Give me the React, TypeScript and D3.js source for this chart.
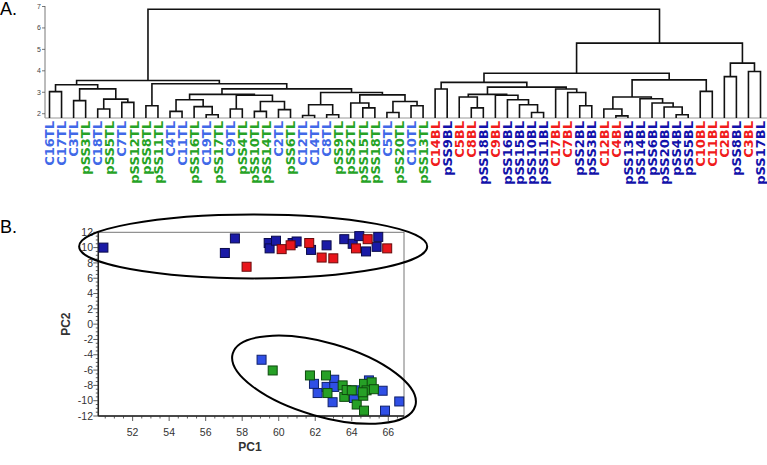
import React from 'react';
import * as d3 from 'd3';

type Node = string | [number, Node, Node];

// dendrogram (merge height, left, right)
const tlTree: Node = [3.55,
  [3.35,
    [3.03, 'C16TL', 'C17TL'],
    [3.16,
      [2.61, 'C3TL', 'pSS3TL'],
      [2.68, [2.22, 'C18TL', 'pSS5TL'], [2.53, 'C7TL', 'pSS12TL']]]],
  [3.40,
    [2.37, 'pSS8TL', 'pSS11TL'],
    [3.16,
      [2.90,
        [2.65, [2.11, 'C4TL', 'C11TL'], [2.33, 'pSS16TL', [1.95, 'C19TL', 'pSS17TL']]],
        [2.86, [2.22, 'C9TL', 'pSS4TL'], [2.57, [2.11, 'pSS10TL', 'pSS14TL'], [2.19, 'C2TL', 'pSS6TL']]]],
      [2.99,
        [2.42, [1.92, 'C12TL', 'C14TL'], [1.95, 'C8TL', 'pSS9TL']],
        [2.88, [2.5, 'pSS2TL', [2.27, 'pSS15TL', 'pSS18TL']], [2.57, [2.06, 'C5TL', 'pSS20TL'], [2.37, 'C10TL', 'pSS13TL']]]]]]];

const blTree: Node = [5.29,
  [3.89,
    [3.46,
      [3.15, 'C14BL', 'pSS9BL'],
      [3.24,
        [2.90,
          [2.78, 'C5BL', [2.27, 'C8BL', 'pSS18BL']],
          [2.86, 'C9BL', [2.65, 'pSS16BL', [2.42, 'pSS15BL', [2.06, 'pSS10BL', 'pSS11BL']]]]],
        [3.15, 'C17BL', [2.99, 'C7BL', [2.37, 'pSS2BL', 'pSS3BL']]]]],
    [3.58,
      [2.78, [2.22, 'C12BL', [1.9, 'C4BL', 'pSS13BL']], [2.70, 'pSS14BL', [2.5, 'pSS6BL', [2.31, 'pSS20BL', [1.95, 'pSS4BL', 'pSS5BL']]]]],
      [3.04, 'C10BL', 'C11BL']]],
  [4.36, [3.73, 'C2BL', 'pSS8BL'], [3.97, 'C3BL', 'pSS17BL']]];

const rootHeight = 6.87;
const dendroTicks = [2, 3, 4, 5, 6, 7];

// PCA scores [PC1, PC2]
const pssBL = [[50.4, 10.0], [57.05, 9.3], [57.6, 11.2], [59.45, 10.6], [59.5, 9.9], [59.85, 10.9], [60.76, 10.6], [60.98, 10.8], [61.77, 9.7], [62.62, 10.3], [63.59, 11.1], [64.05, 10.5], [64.41, 11.5], [64.78, 9.5], [65.36, 10.1], [65.45, 11.4]];
const cBL = [[58.24, 7.5], [60.16, 9.8], [60.65, 10.3], [61.67, 10.6], [62.35, 8.7], [62.99, 8.6], [64.23, 9.9], [64.87, 11.1], [65.94, 9.9]];
const cTL = [[59.06, -4.65], [61.93, -7.8], [62.13, -9.0], [62.62, -8.2], [63.04, -7.26], [63.04, -8.2], [62.95, -10.2], [64.12, -9.65], [64.27, -8.65], [64.94, -7.35], [65.69, -8.7], [65.82, -11.3], [66.6, -10.1]];
const pssTL = [[59.67, -6.05], [61.71, -6.7], [62.59, -6.7], [62.67, -9.0], [63.5, -8.0], [63.59, -9.5], [63.72, -8.6], [64.0, -8.65], [64.27, -10.5], [64.67, -7.8], [64.63, -9.35], [64.67, -11.3], [65.09, -7.6], [64.81, -8.65], [65.21, -8.5], [64.6, -8.9]];

const pc1Ticks = [52, 54, 56, 58, 60, 62, 64, 66];
const pc2Ticks = [-12, -10, -8, -6, -4, -2, 0, 2, 4, 6, 8, 10, 12];

// cluster ellipses: centre (PC1, PC2), half axes in PC1 / PC2 units, tilt (deg)
const ellipses = [
  { cx: 58.6, cy: 10.15, rx: 9.53, ry: 4.17, angle: 0 },
  { cx: 62.48, cy: -7.26, rx: 5.2, ry: 4.82, angle: 16 },
];

const labelColor = (n: string) =>
  n.endsWith('TL') ? (n.startsWith('C') ? '#4169e8' : '#26a326') : (n.startsWith('C') ? '#f01c1c' : '#1212aa');

const groups = [
  { data: pssBL, fill: '#1a1aa6', stroke: '#0a0a4a' },
  { data: cBL, fill: '#e8161c', stroke: '#6a0a0a' },
  { data: cTL, fill: '#2f4fe6', stroke: '#10206a' },
  { data: pssTL, fill: '#26a026', stroke: '#0e4a0e' },
];

export default function App() {
  const root: any = d3.hierarchy<Node>([rootHeight, tlTree, blTree], d => (typeof d === 'string' ? null : [d[1], d[2]]));
  const leaves: string[] = root.leaves().map((l: any) => l.data as string);
  const x = d3.scalePoint<string>().domain(leaves).range([49.5, 760.5]);
  const y = d3.scaleLinear().domain([1.8, 7]).range([118, 6.5]);

  root.eachAfter((n: any) => {
    if (!n.children) {
      n.px = x(n.data);
      n.py = y(1.8);
    } else {
      n.px = (n.children[0].px + n.children[1].px) / 2;
      n.py = y(n.data[0]);
    }
  });
  const links: string[] = [];
  root.each((n: any) => {
    if (n.children) {
      const [a, b] = n.children;
      links.push(`M${a.px},${a.py}V${n.py}H${b.px}V${b.py}`);
    }
  });

  const sx = d3.scaleLinear().domain([50.12, 66.86]).range([98.3, 404]);
  const sy = d3.scaleLinear().domain([-12, 12]).range([416, 232.3]);
  const sq = 9;
  const xMinor = d3.range(50.5, 66.86, 0.5);
  const yMinor = d3.range(-12, 12.01, 0.5);
  const axisFont = '"Liberation Sans", Arial, sans-serif';

  return (
    <svg width={767} height={465} style={{ position: 'absolute', left: 0, top: 0, background: '#fff' }}>
      <text x={0} y={15} fontFamily={axisFont} fontSize={18}>A.</text>
      <text x={0} y={233} fontFamily={axisFont} fontSize={18}>B.</text>

      {/* dendrogram */}
      <line x1={45} x2={45} y1={6} y2={118} stroke="#555" strokeWidth={0.8} />
      {dendroTicks.map(t => (
        <g key={t}>
          <line x1={42} x2={45} y1={y(t)} y2={y(t)} stroke="#555" strokeWidth={0.8} />
          <text x={41} y={y(t)} dy="0.35em" textAnchor="end" fontFamily={axisFont} fontSize={7} fill="#444">{t}</text>
        </g>
      ))}
      <line x1={45} x2={767} y1={118} y2={118} stroke="#999" strokeWidth={1} />
      <path d={links.join('')} fill="none" stroke="#111" strokeWidth={1.6} />
      {leaves.map(n => (
        <text key={n} transform={`translate(${x(n)},121) rotate(-90)`} dy="0.36em" textAnchor="end"
          fontFamily='"DejaVu Sans", Verdana, sans-serif' fontWeight="bold" fontSize={13} fill={labelColor(n)}>{n}</text>
      ))}

      {/* PCA scatter */}
      <rect x={sx(50.12)} y={sy(12)} width={sx(66.86) - sx(50.12)} height={sy(-12) - sy(12)} fill="none" stroke="#777" strokeWidth={1} />
      <line x1={sx(50.12)} x2={sx(50.12)} y1={sy(12)} y2={sy(-12)} stroke="#222" strokeWidth={1.5} />
      <line x1={sx(50.12)} x2={sx(66.86)} y1={sy(-12)} y2={sy(-12)} stroke="#222" strokeWidth={1.5} />
      {xMinor.map(t => (
        <line key={'xm' + t} x1={sx(t)} x2={sx(t)} y1={sy(-12)} y2={sy(-12) + (t % 2 === 0 ? 5 : 2.5)} stroke="#333" strokeWidth={0.8} />
      ))}
      {yMinor.map(t => (
        <line key={'ym' + t} x1={sx(50.12)} x2={sx(50.12) - (t % 2 === 0 ? 5 : 2.5)} y1={sy(t)} y2={sy(t)} stroke="#333" strokeWidth={0.8} />
      ))}
      {pc1Ticks.map(t => (
        <text key={'xt' + t} x={sx(t)} y={436} textAnchor="middle" fontFamily={axisFont} fontSize={10.5} fill="#333">{t}</text>
      ))}
      {pc2Ticks.map(t => (
        <text key={'yt' + t} x={93} y={sy(t)} dy="0.35em" textAnchor="end" fontFamily={axisFont} fontSize={10.5} fill="#333">{t}</text>
      ))}
      <text x={250} y={451} textAnchor="middle" fontFamily={axisFont} fontWeight="bold" fontSize={12} fill="#333">PC1</text>
      <text transform={`translate(66,${sy(0)}) rotate(-90)`} dy="0.35em" textAnchor="middle" fontFamily={axisFont} fontWeight="bold" fontSize={12} fill="#333">PC2</text>

      {groups.map((g, gi) => (
        <g key={gi}>
          {g.data.map((d, i) => (
            <rect key={i} x={sx(d[0]) - sq / 2} y={sy(d[1]) - sq / 2} width={sq} height={sq} fill={g.fill} stroke={g.stroke} strokeWidth={1} />
          ))}
        </g>
      ))}

      {ellipses.map((e, i) => (
        <ellipse key={i} cx={sx(e.cx)} cy={sy(e.cy)} rx={sx(e.cx + e.rx) - sx(e.cx)} ry={sy(e.cy - e.ry) - sy(e.cy)}
          transform={`rotate(${e.angle},${sx(e.cx)},${sy(e.cy)})`} fill="none" stroke="#000" strokeWidth={2} />
      ))}
    </svg>
  );
}
